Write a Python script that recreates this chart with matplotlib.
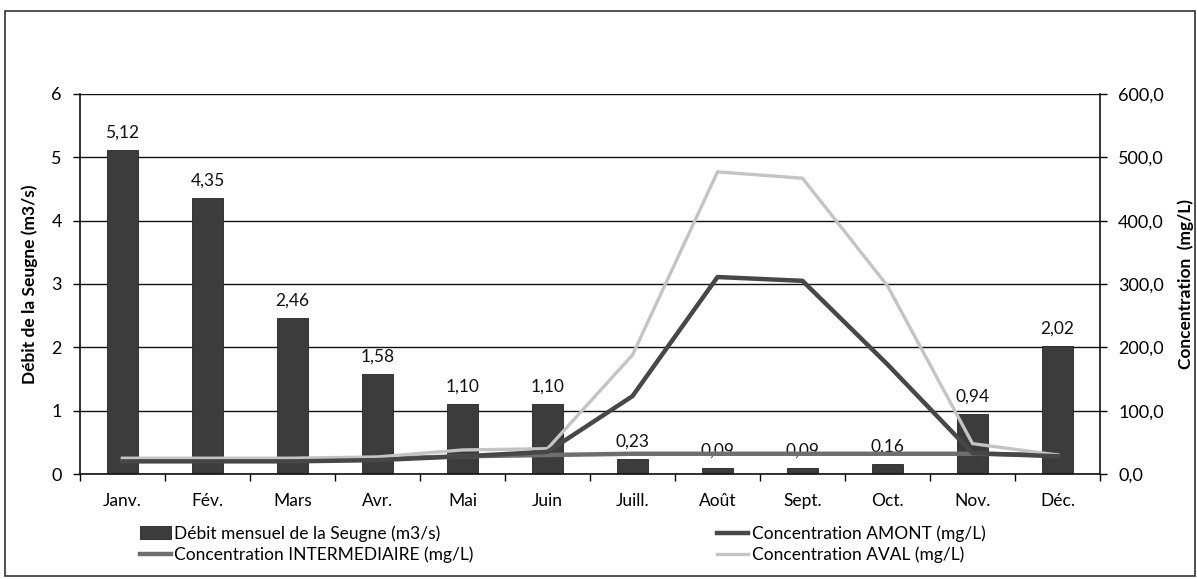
import numpy as np
import matplotlib
matplotlib.use('Agg')
import matplotlib.pyplot as plt
from matplotlib.patches import Rectangle
from matplotlib.ticker import FuncFormatter

months = ['Janv.', 'Fév.', 'Mars', 'Avr.', 'Mai', 'Juin', 'Juill.', 'Août',
          'Sept.', 'Oct.', 'Nov.', 'Déc.']
debit = [5.12, 4.35, 2.46, 1.58, 1.10, 1.10, 0.23, 0.09, 0.09, 0.16, 0.94, 2.02]
amont = [20, 20, 20, 22, 28, 35, 123, 311, 305, 173, 33, 28]
intermediaire = [22, 22, 23, 24, 28, 30, 32, 32, 32, 32, 32, 30]
aval = [25, 25, 25, 27, 38, 40, 188, 477, 467, 297, 48, 30]

plt.rcParams['font.family'] = ['Lato', 'DejaVu Sans']

fig = plt.figure(figsize=(11.97, 5.79), dpi=100)
fig.patches.append(Rectangle((0.004, 0.006), 0.994, 0.975, transform=fig.transFigure,
                             fill=False, edgecolor='#333333', linewidth=1.2))

ax = fig.add_axes([0.0668, 0.1813, 0.8522, 0.6564])
x = np.arange(len(months))

bars = ax.bar(x, debit, width=0.37, color='#3c3c3c', edgecolor='#222222',
              linewidth=0.6, zorder=2)
for xi, v in zip(x, debit):
    ax.text(xi, v + 0.15, f"{v:.2f}".replace('.', ','), ha='center', va='bottom',
            fontsize=12.5, color='#111111')

ax.set_xlim(-0.5, 11.5)
ax.set_ylim(0, 6)
ax.set_yticks(range(0, 7))
ax.yaxis.grid(True, color='#111111', linewidth=1.0, zorder=0)
ax.set_axisbelow(True)
ax.set_xticks(x)
ax.set_xticklabels(months, fontsize=12.5)
ax.set_xticks(np.arange(-0.5, 12, 1), minor=True)
ax.tick_params(axis='x', which='major', length=0, pad=14)
ax.tick_params(axis='x', which='minor', length=5, direction='out', width=1)
ax.tick_params(axis='y', labelsize=13, length=5, width=1, pad=8)
ax.spines['top'].set_visible(False)
ax.spines['right'].set_visible(False)
for s in ('left', 'bottom'):
    ax.spines[s].set_linewidth(1.2)
    ax.spines[s].set_color('#111111')
ax.set_ylabel('Débit de la Seugne (m3/s)', fontsize=12.5, fontweight='bold', labelpad=10)

ax2 = ax.twinx()
ax2.set_ylim(0, 600)
ax2.set_yticks(range(0, 601, 100))
ax2.yaxis.set_major_formatter(FuncFormatter(lambda v, p: f"{v:.1f}".replace('.', ',')))
ax2.tick_params(axis='y', labelsize=13, length=5, width=1, pad=8)
for s in ('top', 'left', 'bottom'):
    ax2.spines[s].set_visible(False)
ax2.spines['right'].set_linewidth(1.2)
ax2.spines['right'].set_color('#111111')
ax2.set_ylabel('Concentration  (mg/L)', fontsize=12.5, fontweight='bold', labelpad=10)

l_int, = ax2.plot(x, intermediaire, color='#6e6e6e', linewidth=3.2, zorder=3,
                  label='Concentration INTERMEDIAIRE (mg/L)')
l_aval, = ax2.plot(x, aval, color='#c4c4c4', linewidth=2.4, zorder=4,
                   label='Concentration AVAL (mg/L)')
l_amont, = ax2.plot(x, amont, color='#474747', linewidth=3.2, zorder=5,
                    label='Concentration AMONT (mg/L)')

bars.set_label('Débit mensuel de la Seugne (m3/s)')
handles = [bars, l_int, l_amont, l_aval]
fig.legend(handles, [h.get_label() for h in handles], ncol=2, loc='lower center',
           bbox_to_anchor=(0.47, 0.0), frameon=False, fontsize=12.5,
           columnspacing=14, handlelength=1.8, handletextpad=0.2, labelspacing=0.3)

fig.savefig('out.png', dpi=100)
